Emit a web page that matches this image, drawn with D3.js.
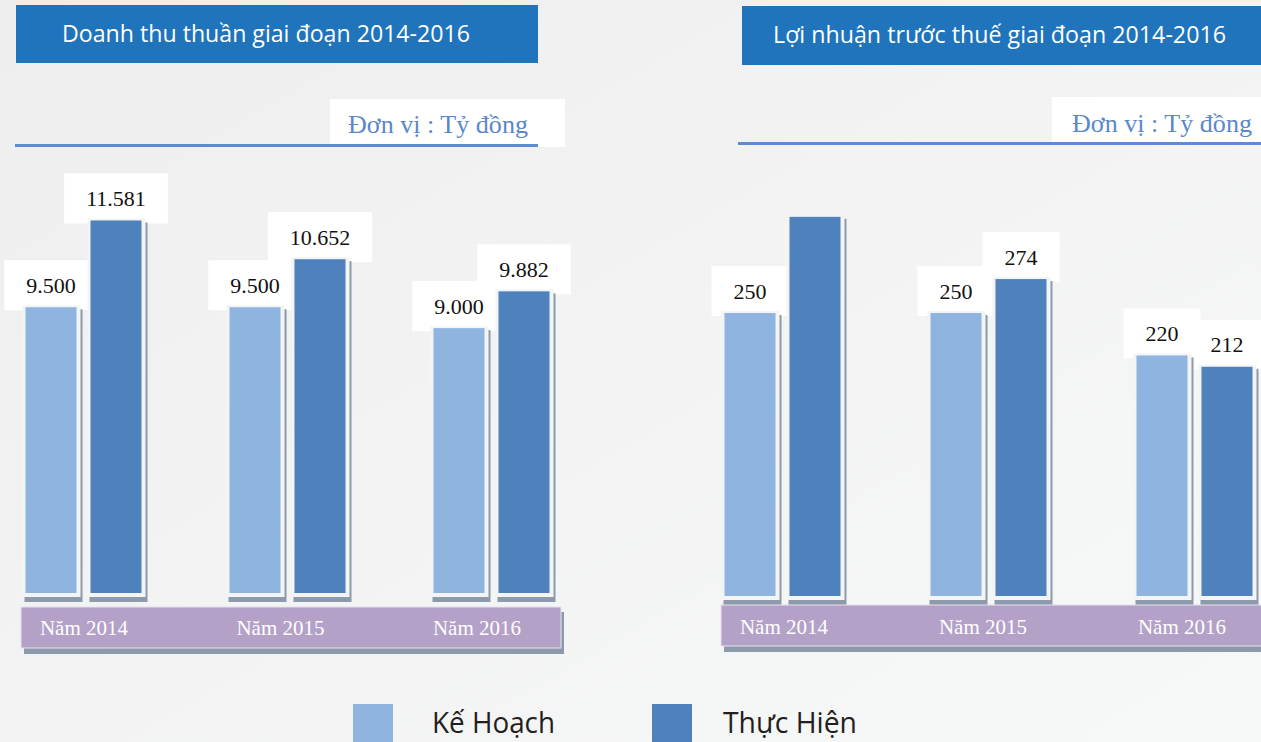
<!DOCTYPE html>
<html>
<head>
<meta charset="utf-8">
<script src="https://cdn.jsdelivr.net/npm/d3@7"></script>
<style>
  html, body { margin: 0; padding: 0; overflow: hidden; background: #f4f5f5; }
</style>
</head>
<body>
<script>
const W = 1261;
const H = 742;

const years = ["Năm 2014", "Năm 2015", "Năm 2016"];
const seriesNames = ["Kế Hoạch", "Thực Hiện"];

const revenuePlan = [9500, 9500, 9000];
const revenueActual = [11581, 10652, 9882];

const profitPlan = [250, 250, 220];
const profitActual = [318, 274, 212];
// the reference prints no value above the 2014 profit bar
const profitActualShown = [false, true, true];

const COLORS = ["#8fb4df", "#4f81bd"];
const HEAD_BLUE = "#1f74bc";
const UNIT_BLUE = "#5a88c8";
const BAND = "#b3a1c8";
const SHADOW = "#8c9aab";
const SERIF = "'Liberation Serif', 'Times New Roman', serif";
const SANS = "'Open Sans', 'Noto Sans', sans-serif";

const vn = d3.formatLocale({ decimal: ",", thousands: ".", grouping: [3], currency: ["", ""] });
const fmt = vn.format(",d");

const svg = d3.select("body").append("svg").attr("width", W).attr("height", H);

const grad = svg.append("defs").append("linearGradient")
  .attr("id", "bg").attr("x1", 0).attr("y1", 0).attr("x2", 1).attr("y2", 1);
grad.append("stop").attr("offset", "0%").attr("stop-color", "#eeeeee");
grad.append("stop").attr("offset", "100%").attr("stop-color", "#f7f8f8");
svg.append("rect").attr("width", W).attr("height", H).attr("fill", "url(#bg)");

const drawPanel = (p) => {
  const g = svg.append("g");

  // header
  g.append("rect")
    .attr("x", p.head.x).attr("y", p.head.y)
    .attr("width", p.head.w).attr("height", p.head.h)
    .attr("fill", HEAD_BLUE);
  g.append("text")
    .attr("x", p.head.tx).attr("y", p.head.ty)
    .attr("fill", "#fff")
    .attr("font-family", SANS)
    .attr("font-size", 23)
    .attr("textLength", p.head.tlen)
    .attr("lengthAdjust", "spacingAndGlyphs")
    .text(p.title);

  // unit box + rule
  g.append("rect")
    .attr("x", p.unit.x).attr("y", p.unit.y)
    .attr("width", p.unit.w).attr("height", p.unit.h)
    .attr("fill", "#fff");
  g.append("rect")
    .attr("x", p.rule.x1).attr("y", p.rule.y)
    .attr("width", p.rule.x2 - p.rule.x1).attr("height", 3)
    .attr("fill", "#5b8bd0");
  g.append("text")
    .attr("x", p.unit.tx).attr("y", p.unit.ty)
    .attr("fill", UNIT_BLUE)
    .attr("font-family", SERIF)
    .attr("font-size", 26)
    .attr("textLength", 180)
    .attr("lengthAdjust", "spacingAndGlyphs")
    .text("Đơn vị : Tỷ đồng");

  // scales
  const x0 = d3.scalePoint().domain(years).range(p.xRange);
  const x1 = d3.scaleBand().domain(seriesNames).range([-58, 58]).paddingInner(0.215);
  const y = d3.scaleLinear().domain(p.yDomain).range(p.yRange);
  const base = y(p.yDomain[0]);

  const rows = [];
  years.forEach((yr, i) => {
    p.series.forEach((vals, s) => {
      rows.push({ year: yr, s, name: seriesNames[s], value: vals[i], shown: p.shown[s][i] });
    });
  });

  const bx = (d) => x0(d.year) + x1(d.name);
  const bw = x1.bandwidth();

  // value boxes (under bars)
  const labels = g.append("g").selectAll("g")
    .data(rows.filter((d) => d.shown))
    .join("g");
  labels.append("text")
    .attr("x", (d) => bx(d) + bw / 2)
    .attr("y", (d) => y(d.value) - 22)
    .attr("text-anchor", "middle")
    .attr("dominant-baseline", "central")
    .attr("font-family", SERIF)
    .attr("font-size", 22)
    .attr("fill", "#111")
    .text((d) => fmt(d.value));
  labels.each(function (d) {
    const t = d3.select(this).select("text");
    const tw = t.node().getComputedTextLength();
    d3.select(this).insert("rect", "text")
      .attr("x", bx(d) + bw / 2 - tw / 2 - 22)
      .attr("y", y(d.value) - 47)
      .attr("width", tw + 44)
      .attr("height", 50)
      .attr("fill", "#fff");
  });

  // bars with frame and drop shadow
  const bars = g.append("g").selectAll("g").data(rows).join("g");
  bars.append("rect")
    .attr("x", (d) => bx(d) - 1)
    .attr("y", (d) => y(d.value) + 2)
    .attr("width", bw + 7)
    .attr("height", (d) => base - y(d.value) + 7)
    .attr("fill", SHADOW);
  bars.append("rect")
    .attr("x", (d) => bx(d) - 3)
    .attr("y", (d) => y(d.value) - 2)
    .attr("width", bw + 7)
    .attr("height", (d) => base - y(d.value) + 6)
    .attr("fill", "#f3f4f4");
  bars.append("rect")
    .attr("x", bx)
    .attr("y", (d) => y(d.value))
    .attr("width", bw)
    .attr("height", (d) => base - y(d.value))
    .attr("fill", (d) => COLORS[d.s]);

  // category band
  g.append("rect")
    .attr("x", p.band.x + 3).attr("y", p.band.y + 5)
    .attr("width", p.band.w).attr("height", p.band.h + 1)
    .attr("fill", SHADOW);
  g.append("rect")
    .attr("x", p.band.x).attr("y", p.band.y)
    .attr("width", p.band.w).attr("height", p.band.h)
    .attr("fill", BAND)
    .attr("stroke", "#e6e0ee")
    .attr("stroke-width", 1);

  const xl = d3.scalePoint().domain(years).range(p.labelRange);
  g.append("g").selectAll("text").data(years).join("text")
    .attr("x", (d) => xl(d))
    .attr("y", p.band.ty)
    .attr("text-anchor", "middle")
    .attr("font-family", SERIF)
    .attr("font-size", 21)
    .attr("fill", "#fff")
    .text((d) => d);
};

drawPanel({
  title: "Doanh thu thuần giai đoạn 2014-2016",
  head: { x: 16, y: 5, w: 522, h: 58, tx: 62, ty: 42, tlen: 408 },
  unit: { x: 330, y: 99, w: 235, h: 48, tx: 348, ty: 133 },
  rule: { x1: 15, x2: 538, y: 144 },
  xRange: [83.5, 491.5],
  yDomain: [2650, 12000],
  yRange: [593, 203],
  series: [revenuePlan, revenueActual],
  shown: [[true, true, true], [true, true, true]],
  band: { x: 21, y: 607, w: 540, h: 41, ty: 635 },
  labelRange: [84, 477]
});

drawPanel({
  title: "Lợi nhuận trước thuế giai đoạn 2014-2016",
  head: { x: 742, y: 6, w: 530, h: 59, tx: 773, ty: 43, tlen: 453 },
  unit: { x: 1052, y: 97, w: 220, h: 45, tx: 1072, ty: 132 },
  rule: { x1: 738, x2: 1270, y: 142 },
  xRange: [782.5, 1194.5],
  yDomain: [50, 320],
  yRange: [596, 214],
  series: [profitPlan, profitActual],
  shown: [[true, true, true], profitActualShown],
  band: { x: 721, y: 605, w: 550, h: 41, ty: 634 },
  labelRange: [784, 1182]
});

// legend
const lx = d3.scalePoint().domain(seriesNames).range([353, 652]);
const tx = d3.scalePoint().domain(seriesNames).range([432, 723]);
const legend = svg.append("g").selectAll("g").data(seriesNames).join("g");
legend.append("rect")
  .attr("x", (d) => lx(d)).attr("y", 704)
  .attr("width", 40).attr("height", 40)
  .attr("fill", (d, i) => COLORS[i]);
legend.append("text")
  .attr("x", (d) => tx(d)).attr("y", 733)
  .attr("font-family", SANS)
  .attr("font-size", 29)
  .attr("fill", "#231f20")
  .attr("textLength", (d, i) => [123, 134][i])
  .attr("lengthAdjust", "spacingAndGlyphs")
  .text((d) => d);
</script>
</body>
</html>
